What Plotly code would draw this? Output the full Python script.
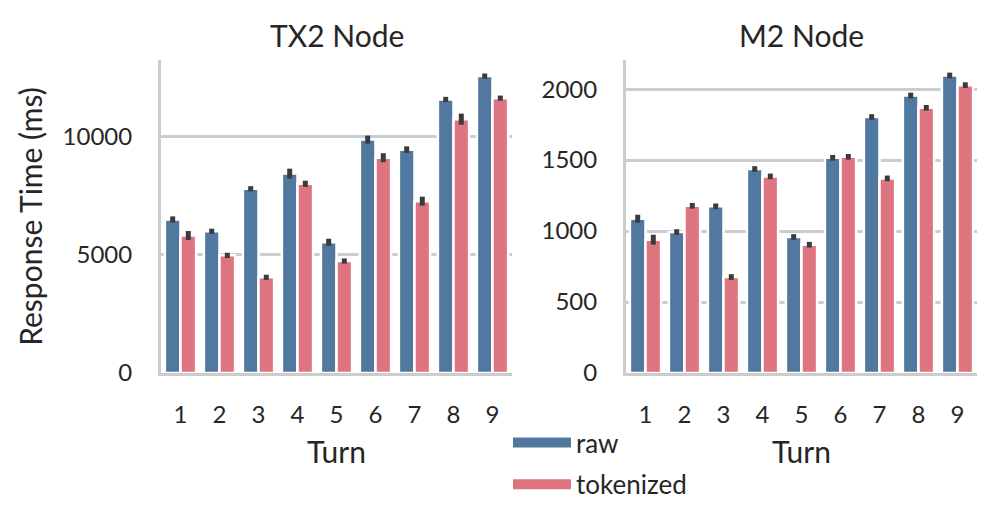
import plotly.graph_objects as go

turns = ["1", "2", "3", "4", "5", "6", "7", "8", "9"]

tx2_raw = [6500, 6000, 7800, 8440, 5535, 9880, 9455, 11580, 12570]
tx2_tok = [5820, 4980, 4050, 8010, 4740, 9115, 7275, 10745, 11635]
tx2_raw_err = [130, 110, 110, 210, 150, 170, 140, 110, 110]
tx2_tok_err = [190, 110, 110, 130, 110, 190, 190, 235, 110]

m2_raw = [1087, 993, 1174, 1437, 958, 1516, 1803, 1955, 2096]
m2_tok = [939, 1178, 676, 1385, 904, 1523, 1371, 1868, 2028]
m2_raw_err = [28, 20, 20, 20, 20, 20, 20, 20, 20]
m2_tok_err = [35, 20, 20, 20, 20, 20, 20, 20, 20]

series_names = ["raw", "tokenized"]
colors = ["#51789f", "#dd7480"]
ERR = "#3b3b3b"
GRID = "#cccccc"
FONT = "Lato"
TXT = "#262626"

fig = go.Figure()

panels = [
    ("x", "y", [tx2_raw, tx2_tok], [tx2_raw_err, tx2_tok_err]),
    ("x2", "y2", [m2_raw, m2_tok], [m2_raw_err, m2_tok_err]),
]
for xa, ya, vals, errs in panels:
    for i in range(2):
        fig.add_trace(go.Bar(
            x=turns, y=vals[i], name=series_names[i], xaxis=xa, yaxis=ya,
            marker=dict(color=colors[i], line=dict(color="white", width=2.5)),
            error_y=dict(type="data", array=errs[i], color=ERR, thickness=5, width=0),
            showlegend=False, offsetgroup=str(i),
        ))

for i in range(2):
    fig.add_trace(go.Scatter(
        x=[None], y=[None], mode="lines", name=series_names[i], legendgroup=series_names[i],
        line=dict(color=colors[i], width=17), showlegend=True,
    ))

ybot = 1 - 373 / 518
ytop = 1 - 60 / 518

axis_common = dict(
    showline=True, linecolor=GRID, linewidth=3, ticks="", mirror=False,
    tickfont=dict(family=FONT, size=24, color=TXT), zeroline=False,
    automargin=False,
)
TITLE_SIZE = 30

fig.update_layout(
    width=996, height=518,
    margin=dict(l=0, r=0, t=0, b=0, autoexpand=False),
    paper_bgcolor="white", plot_bgcolor="white",
    barmode="group", bargap=0.2, bargroupgap=0,
    font=dict(family=FONT, size=24, color=TXT),
    xaxis=dict(domain=[161 / 996, 512 / 996], anchor="y", type="category",
               showgrid=False, ticklabelstandoff=18,
               title=dict(text="Turn", font=dict(size=TITLE_SIZE), standoff=16), **axis_common),
    yaxis=dict(domain=[ybot, ytop], anchor="x", range=[0, 13250],
               tickvals=[0, 5000, 10000], ticktext=["0", "5000", "10000"],
               showgrid=True, gridcolor=GRID, gridwidth=2.5,
               ticklabelstandoff=21,
               title=dict(text="Response Time (ms)", font=dict(size=TITLE_SIZE), standoff=12),
               **axis_common),
    xaxis2=dict(domain=[626 / 996, 977 / 996], anchor="y2", type="category",
                showgrid=False, ticklabelstandoff=18,
                title=dict(text="Turn", font=dict(size=TITLE_SIZE), standoff=16), **axis_common),
    yaxis2=dict(domain=[ybot, ytop], anchor="x2", range=[0, 2205],
                tickvals=[0, 500, 1000, 1500, 2000], showgrid=True, gridcolor=GRID,
                gridwidth=2.5, ticklabelstandoff=21, **axis_common),
    legend=dict(x=508 / 996, y=(518 - 508) / 518, xanchor="left", yanchor="bottom",
                font=dict(family=FONT, size=26, color=TXT), traceorder="grouped",
                tracegroupgap=5, itemwidth=58,
                bgcolor="rgba(0,0,0,0)"),
    annotations=[
        dict(text="TX2 Node", x=(161 + 512) / 2 / 996, y=1 - 35 / 518, xref="paper", yref="paper",
             showarrow=False, font=dict(family=FONT, size=TITLE_SIZE, color=TXT), xanchor="center", yanchor="middle"),
        dict(text="M2 Node", x=(626 + 977) / 2 / 996, y=1 - 35 / 518, xref="paper", yref="paper",
             showarrow=False, font=dict(family=FONT, size=TITLE_SIZE, color=TXT), xanchor="center", yanchor="middle"),
    ],
)

fig.write_html("out.html", config={"displayModeBar": False},
               post_script="document.body.style.margin='0';")
